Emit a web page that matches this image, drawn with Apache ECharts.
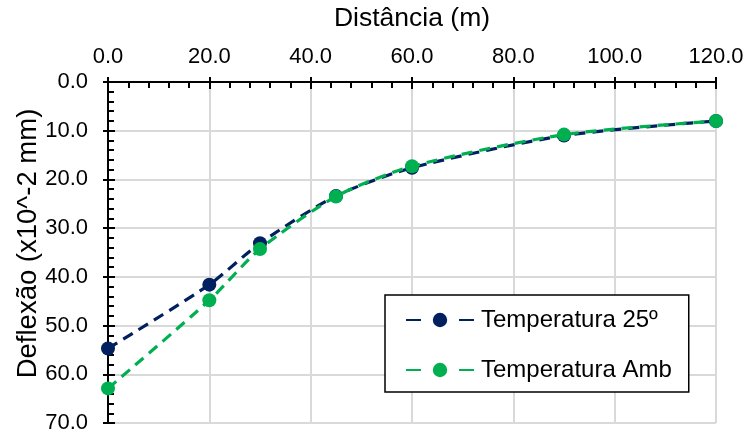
<!DOCTYPE html>
<html>
<head>
<meta charset="utf-8">
<script src="https://cdn.jsdelivr.net/npm/echarts@6/dist/echarts.min.js"></script>
<style>
  html, body { margin: 0; padding: 0; background: #fff; }
  #chart { width: 747px; height: 434px; }
</style>
</head>
<body>
<div id="chart"></div>
<script>
// Distance along the test line (m)
const distancias = [0, 20, 30, 45, 60, 90, 120];
// Deflection readings (x10^-2 mm)
const temp25 = [54.7, 41.6, 33.1, 23.4, 17.6, 11.0, 8.0];
const tempAmb = [62.9, 44.8, 34.3, 23.5, 17.3, 10.8, 8.0];
const nomesSeries = ['Temperatura 25º', 'Temperatura Amb'];
const coresSeries = ['#002060', '#00B050'];

const FONT = 'Liberation Sans, Arial, sans-serif';
const TXT = '#000';
const fmt = v => v.toFixed(1);

function pares(ys) { return distancias.map((x, i) => [x, ys[i]]); }

const chart = echarts.init(document.getElementById('chart'));

const axisLine = { show: true, onZero: false, lineStyle: { color: '#000', width: 2 } };

chart.setOption({
  animation: false,
  backgroundColor: '#fff',
  grid: { left: 108, top: 82, right: 31, bottom: 10, containLabel: false },
  xAxis: [
    {
      type: 'value', position: 'top', min: 0, max: 120, interval: 20,
      name: 'Distância (m)', nameLocation: 'middle', nameGap: 50,
      nameTextStyle: { fontFamily: FONT, fontSize: 26.5, color: TXT },
      axisLine: axisLine,
      axisTick: { show: true, inside: true, length: 7, lineStyle: { color: '#000', width: 2 } },
      minorTick: { show: true, splitNumber: 5, length: 6, lineStyle: { color: '#000', width: 2 } },
      axisLabel: { formatter: fmt, fontFamily: FONT, fontSize: 22, color: TXT, margin: 14 },
      splitLine: { show: true, lineStyle: { color: '#d9d9d9', width: 2 } }
    },
    {
      type: 'value', position: 'top', min: 0, max: 120, interval: 20,
      axisLine: axisLine,
      axisTick: { show: true, inside: false, length: 5, lineStyle: { color: '#000', width: 2 } },
      axisLabel: { show: false },
      splitLine: { show: false }
    }
  ],
  yAxis: [
    {
      type: 'value', inverse: true, min: 0, max: 70, interval: 10,
      name: 'Deflexão (x10^-2 mm)', nameLocation: 'middle', nameGap: 66,
      nameMoveOverlap: false,
      nameTextStyle: { fontFamily: FONT, fontSize: 27.5, color: TXT, padding: [0, 0, 0, 18] },
      axisLine: axisLine,
      axisTick: { show: true, inside: true, length: 7, lineStyle: { color: '#000', width: 2 } },
      minorTick: { show: true, splitNumber: 5, length: 6, lineStyle: { color: '#000', width: 2 } },
      axisLabel: { formatter: fmt, fontFamily: FONT, fontSize: 22, color: TXT, margin: 20 },
      splitLine: { show: true, lineStyle: { color: '#d9d9d9', width: 2 } }
    },
    {
      type: 'value', position: 'left', inverse: true, min: 0, max: 70, interval: 10,
      axisLine: axisLine,
      axisTick: { show: true, inside: false, length: 5, lineStyle: { color: '#000', width: 2 } },
      axisLabel: { show: false },
      splitLine: { show: false }
    }
  ],
  legend: {
    left: 385, top: 295, orient: 'vertical',
    backgroundColor: '#fff', borderColor: '#000', borderWidth: 1.5, borderRadius: 0,
    padding: [13, 17, 10, 20],
    itemWidth: 68, itemHeight: 18, itemGap: 26,
    lineStyle: { type: [15, 38] },
    textStyle: { fontFamily: FONT, fontSize: 24, color: TXT, padding: [0, 0, 0, 2] },
    data: nomesSeries
  },
  series: [temp25, tempAmb].map((ys, i) => ({
    name: nomesSeries[i],
    type: 'line',
    xAxisIndex: 0, yAxisIndex: 0,
    data: pares(ys),
    smooth: 0.25,
    symbol: 'circle',
    symbolSize: 14,
    itemStyle: { color: coresSeries[i] },
    lineStyle: { color: coresSeries[i], width: 3.2, type: [11, 7] },
    z: 3 + i
  }))
});
</script>
</body>
</html>
